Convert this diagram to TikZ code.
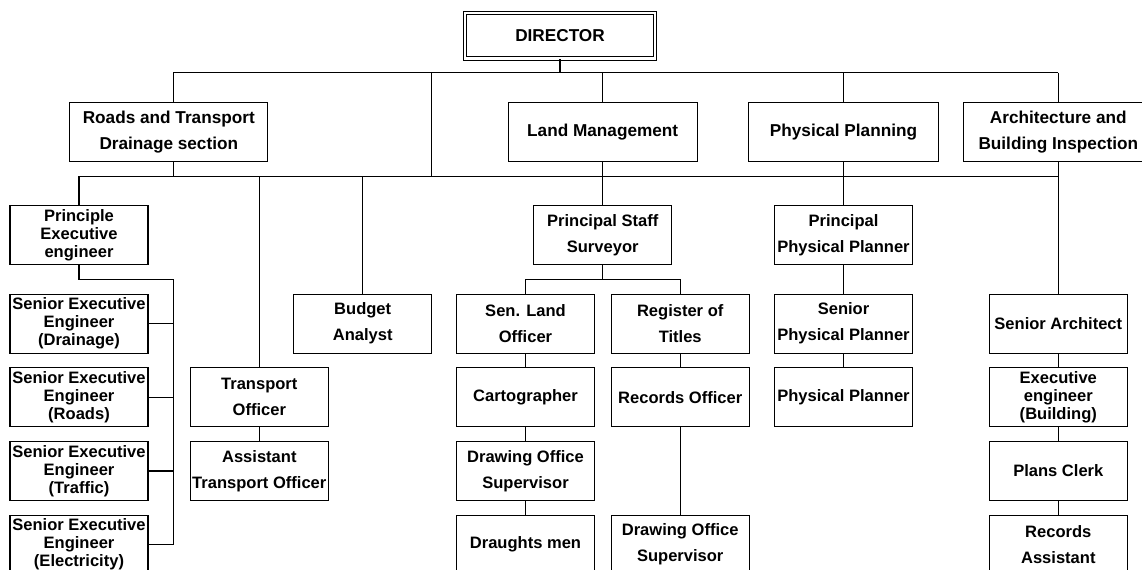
\documentclass[tikz,border=0pt]{standalone}
\usepackage{fontspec}
\setmainfont{Liberation Sans}

\tikzset{every picture/.style={line width=0.8pt}}
\tikzset{
  postbox/.style={draw, align=center, inner sep=0pt, minimum width=103.5pt, minimum height=44.25pt,
    font=\fontsize{12.4}{19.5}\selectfont\bfseries},
  threeline/.style={postbox, font=\fontsize{12.4}{13.5}\selectfont\bfseries},
  deptbox/.style={postbox, minimum width=142.5pt, minimum height=44.5pt,
    font=\fontsize{12.9}{19.5}\selectfont\bfseries},
  dirbox/.style={deptbox, double, double distance=1.8pt, minimum width=142.3pt, minimum height=34.3pt}
}

\begin{document}
\begin{tikzpicture}[x=0.75pt,y=0.75pt,yscale=-1,xscale=1]
    %set diagram: 1142 x 570
    \useasboundingbox[fill=white] (0,0) rectangle (1142,570);

    % Director and sections
    \node [dirbox] (dir) at (560,35.7) {DIRECTOR};
    \node [deptbox, minimum width=148.3pt] (roads) at (168.8,132) {Roads and Transport\\Drainage section};
    \node [deptbox, minimum width=142pt] (lm) at (602.7,132) {Land Management};
    \node [deptbox] (pp) at (843.5,132) {Physical Planning};
    \node [deptbox] (arch) at (1058.3,132) {Architecture and\\Building Inspection};

    % Roads and Transport
    \node [threeline] (pexe) at (79,235.2) {Principle\\Executive\\engineer};
    \node [threeline] (se1) at (79,323.7) {Senior Executive\\Engineer\\(Drainage)};
    \node [threeline] (se2) at (79,397.2) {Senior Executive\\Engineer\\(Roads)};
    \node [threeline] (se3) at (79,471) {Senior Executive\\Engineer\\(Traffic)};
    \node [threeline] (se4) at (79,544.7) {Senior Executive\\Engineer\\(Electricity)};
    \node [postbox] (trans) at (259.3,397.2) {Transport\\Officer};
    \node [postbox] (atrans) at (259.3,471) {Assistant\\Transport Officer};
    \node [postbox] (budget) at (362.7,323.7) {Budget\\Analyst};

    % Land Management
    \node [postbox] (pss) at (602.7,235.2) {Principal Staff\\Surveyor};
    \node [postbox] (sland) at (525.5,323.7) {Sen. Land\\Officer};
    \node [postbox] (carto) at (525.5,397.2) {Cartographer};
    \node [postbox] (dos1) at (525.5,471) {Drawing Office\\Supervisor};
    \node [postbox] (dmen) at (525.5,544.7) {Draughts men};
    \node [postbox] (reg) at (680.2,323.7) {Register of\\Titles};
    \node [postbox] (recof) at (680.2,397.2) {Records Officer};
    \node [postbox] (dos2) at (680.2,544.7) {Drawing Office\\Supervisor};

    % Physical Planning
    \node [postbox] (ppp) at (843.5,235.2) {Principal\\Physical Planner};
    \node [postbox] (spp) at (843.5,323.7) {Senior\\Physical Planner};
    \node [postbox] (phpl) at (843.5,397.2) {Physical Planner};

    % Architecture and Building Inspection
    \node [postbox] (sarch) at (1058.3,323.7) {Senior Architect};
    \node [threeline] (exeb) at (1058.3,397.2) {Executive\\engineer\\(Building)};
    \node [postbox] (plans) at (1058.3,471) {Plans Clerk};
    \node [postbox] (recas) at (1058.3,544.7) {Records\\Assistant};

    % Bus lines
    \coordinate (topL) at (173.3,72.7);
    \coordinate (topR) at (1058.3,72.7);
    \coordinate (mid) at (431.7,72.7);
    \coordinate (lowL) at (79,176.5);
    \coordinate (lowR) at (1058.3,176.5);
    \coordinate (spine) at (173.3,279.5);
    \coordinate (pssJ) at (602.7,279.5);

    \draw (topL) -- (topR);
    \draw (dir.south) -- (dir.south |- topL);
    \draw (topL) -- (topL |- roads.north);
    \draw (roads.south -| topL) -- (topL |- lowL);
    \draw (mid) -- (mid |- lowL);
    \draw (lm.north |- topL) -- (lm.north);
    \draw (pp.north |- topL) -- (pp.north);
    \draw (topR) -- (arch.north);

    \draw (lowL) -- (lowR);
    \draw (lowL) -- (pexe.north);
    \draw (trans.north |- lowL) -- (trans.north);
    \draw (budget.north |- lowL) -- (budget.north);
    \draw (lm.south) -- (pss.north);
    \draw (pp.south) -- (ppp.north);
    \draw (arch.south) -- (sarch.north);

    % Roads and Transport links
    \draw (pexe.south) |- (spine) -- (spine |- se4.east);
    \foreach \s in {se1,se2,se3,se4}
        \draw (\s.east) -- (\s.east -| spine);
    \draw (trans) -- (atrans);

    % Land Management links
    \draw (pss.south) -- (pssJ);
    \draw (sland.north) |- (pssJ) -| (reg.north);
    \draw (sland) -- (carto) -- (dos1) -- (dmen);
    \draw (reg) -- (recof) -- (dos2);

    % Physical Planning and Architecture links
    \draw (ppp) -- (spp) -- (phpl);
    \draw (sarch) -- (exeb) -- (plans) -- (recas);
\end{tikzpicture}
\end{document}
